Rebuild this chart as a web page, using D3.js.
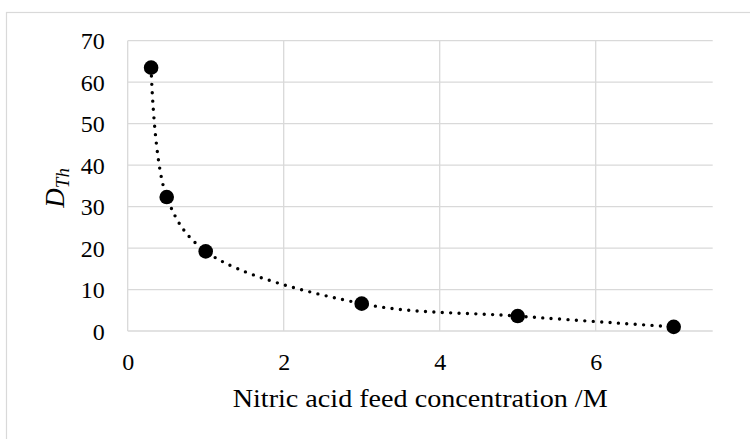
<!DOCTYPE html>
<html>
<head>
<meta charset="utf-8">
<script src="https://cdn.jsdelivr.net/npm/d3@7"></script>
<style>
  html, body { margin: 0; padding: 0; background: #fff; }
  svg { display: block; }
  text { font-family: "Liberation Serif", "DejaVu Serif", serif; fill: #000; }
</style>
</head>
<body>
<svg id="chart" width="750" height="439"></svg>
<script>
const concentration = [0.3, 0.5, 1, 3, 5, 7];
const dTh = [63.5, 32.3, 19.2, 6.6, 3.6, 1.0];
const xTicks = [0, 2, 4, 6];
const xGrid = [0, 2, 4, 6];
const yTicks = [0, 10, 20, 30, 40, 50, 60, 70];
const xTitle = "Nitric acid feed concentration /M";

const W = 750, H = 439;
const plot = { left: 127.7, right: 712.7, top: 40.7, bottom: 331 };

const svg = d3.select("#chart");

// outer chart border
svg.append("rect")
  .attr("x", 6.5).attr("y", 12.5)
  .attr("width", W).attr("height", H)
  .attr("fill", "none").attr("stroke", "#d9d9d9").attr("stroke-width", 1.2);

const x = d3.scaleLinear().domain([0, 7.5]).range([plot.left, plot.right]);
const y = d3.scaleLinear().domain([0, 70]).range([plot.bottom, plot.top]);

// horizontal gridlines
svg.append("g").selectAll("line").data(yTicks).join("line")
  .attr("x1", plot.left).attr("x2", plot.right)
  .attr("y1", d => y(d)).attr("y2", d => y(d))
  .attr("stroke", "#d9d9d9").attr("stroke-width", 1.3);

// vertical gridlines
svg.append("g").selectAll("line").data(xGrid).join("line")
  .attr("x1", d => x(d)).attr("x2", d => x(d))
  .attr("y1", plot.top).attr("y2", plot.bottom)
  .attr("stroke", "#d9d9d9").attr("stroke-width", 1.3);

// y axis tick labels
const yAxis = d3.axisLeft(y).tickValues(yTicks).tickSize(0).tickPadding(23);
const gy = svg.append("g").attr("transform", `translate(${plot.left},0)`).call(yAxis);
gy.select(".domain").remove();
gy.selectAll("text").style("font-size", "24px").attr("dy", "0.34em")
  .style("font-family", "'Liberation Serif', serif");

// x axis tick labels
const xAxis = d3.axisBottom(x).tickValues(xTicks).tickSize(0).tickPadding(22);
const gx = svg.append("g").attr("transform", `translate(0,${plot.bottom})`).call(xAxis);
gx.select(".domain").remove();
gx.selectAll("text").style("font-size", "24px")
  .style("font-family", "'Liberation Serif', serif");

// x title
svg.append("text")
  .attr("x", (plot.left + plot.right) / 2).attr("y", 407)
  .attr("text-anchor", "middle")
  .attr("textLength", 375)
  .attr("lengthAdjust", "spacingAndGlyphs")
  .style("font-size", "26px")
  .text(xTitle);

// y title D_Th
const yt = svg.append("text")
  .attr("transform", `translate(64,${(plot.top + plot.bottom) / 2 + 2}) rotate(-90)`)
  .attr("text-anchor", "middle")
  .style("font-style", "italic")
  .style("font-size", "27px");
yt.append("tspan").text("D");
yt.append("tspan").attr("dy", "0.25em").style("font-size", "19px").text("Th");

// data
const pts = concentration.map((c, i) => [c, dTh[i]]);
const line = d3.line().x(d => x(d[0])).y(d => y(d[1])).curve(d3.curveCatmullRom.alpha(0.5));

svg.append("path")
  .attr("d", line(pts))
  .attr("fill", "none")
  .attr("stroke", "#000")
  .attr("stroke-width", 3.4)
  .attr("stroke-linecap", "round")
  .attr("stroke-dasharray", "0 8.4");

svg.append("g").selectAll("circle").data(pts).join("circle")
  .attr("cx", d => x(d[0])).attr("cy", d => y(d[1]))
  .attr("r", 7.3).attr("fill", "#000");
</script>
</body>
</html>
